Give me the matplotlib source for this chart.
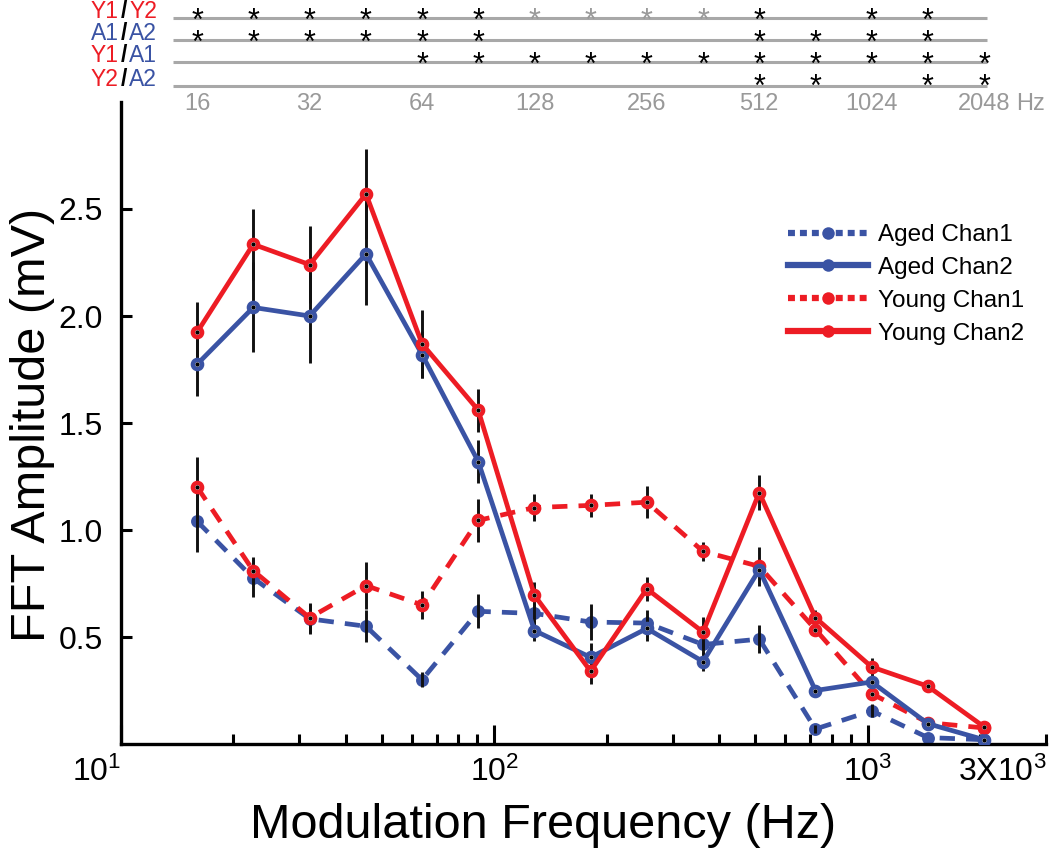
import matplotlib
matplotlib.use("Agg")
import matplotlib.pyplot as plt
from matplotlib import ticker, transforms
from matplotlib.lines import Line2D
from matplotlib.font_manager import FontProperties

plt.rcParams['font.family'] = ['Liberation Sans', 'DejaVu Sans']
plt.rcParams['mathtext.fontset'] = 'custom'
plt.rcParams['mathtext.rm'] = 'Liberation Sans'
plt.rcParams['lines.scale_dashes'] = False

# data
freqs = [16, 22.6, 32, 45.3, 64, 90.5, 128, 181, 256, 362, 512, 724, 1024, 1448, 2048]

aged_chan1 = [1.04, 0.775, 0.585, 0.55, 0.30, 0.62, 0.61, 0.57, 0.565, 0.465, 0.49, 0.07, 0.155, 0.03, 0.02]
aged_chan1_err = [0.145, 0.09, 0.07, 0.075, 0.035, 0.08, 0.05, 0.085, 0.06, 0.05, 0.065, 0.02, 0.03, 0.0, 0.0]

aged_chan2 = [1.775, 2.04, 2.0, 2.29, 1.82, 1.32, 0.53, 0.405, 0.54, 0.385, 0.815, 0.25, 0.29, 0.095, 0.02]
aged_chan2_err = [0.15, 0.21, 0.22, 0.24, 0.11, 0.10, 0.05, 0.065, 0.06, 0.045, 0.05, 0.02, 0.02, 0.0, 0.0]

young_chan1 = [1.20, 0.81, 0.59, 0.74, 0.65, 1.045, 1.105, 1.115, 1.13, 0.90, 0.83, 0.535, 0.235, 0.10, 0.075]
young_chan1_err = [0.14, 0.065, 0.07, 0.11, 0.065, 0.10, 0.065, 0.055, 0.075, 0.045, 0.09, 0.03, 0.02, 0.0, 0.0]

young_chan2 = [1.925, 2.335, 2.24, 2.57, 1.87, 1.56, 0.695, 0.34, 0.725, 0.523, 1.175, 0.59, 0.36, 0.27, 0.08]
young_chan2_err = [0.14, 0.165, 0.18, 0.21, 0.16, 0.10, 0.06, 0.06, 0.055, 0.07, 0.08, 0.035, 0.04, 0.0, 0.0]

# significance rows: 0 = none, 1 = black star, 2 = grey star
sig_labels = [("Y1", "Y2"), ("A1", "A2"), ("Y1", "A1"), ("Y2", "A2")]
sig_y1_y2 = [1, 1, 1, 1, 1, 1, 2, 2, 2, 2, 1, 0, 1, 1, 0]
sig_a1_a2 = [1, 1, 1, 1, 1, 1, 0, 0, 0, 0, 1, 1, 1, 1, 0]
sig_y1_a1 = [0, 0, 0, 0, 1, 1, 1, 1, 1, 1, 1, 1, 1, 1, 1]
sig_y2_a2 = [0, 0, 0, 0, 0, 0, 0, 0, 0, 0, 1, 1, 0, 1, 1]
top_freqs = [16, 32, 64, 128, 256, 512, 1024, 2048]

RED = "#ED1C24"
BLUE = "#3A53A4"
name_color = {"Y": RED, "A": BLUE}
star_color = {1: 'black', 2: '#9a9a9a'}

fig = plt.figure(figsize=(10.5, 8.55), dpi=100)
W, H = 1050, 855
ax = fig.add_axes([121 / W, 111 / H, 925 / W, 642 / H])

LW = 3.4
ring = dict(marker='o', ms=6.6, mew=3.2, mfc='white')

# aged chan1 (dashed, filled markers, sits under the error bars)
ax.plot(freqs, aged_chan1, color=BLUE, lw=LW, dashes=(11, 8), marker='o', ms=9.3, mew=0, zorder=2)

for vals, errs in [(aged_chan1, aged_chan1_err), (young_chan1, young_chan1_err),
                   (aged_chan2, aged_chan2_err), (young_chan2, young_chan2_err)]:
    ax.errorbar(freqs, vals, yerr=errs, fmt='none', ecolor='#111111', elinewidth=2.1, capsize=0, zorder=3)

ax.plot(freqs, young_chan1, color=RED, lw=LW, dashes=(11, 8), mec=RED, zorder=4, **ring)
ax.plot(freqs, young_chan1, 'o', color='k', ms=2, zorder=4.5)
ax.plot(freqs, aged_chan2, color=BLUE, lw=LW, mec=BLUE, zorder=5, **ring)
ax.plot(freqs, aged_chan2, 'o', color='k', ms=2, zorder=5.5)
ax.plot(freqs, young_chan2, color=RED, lw=LW, mec=RED, zorder=6, **ring)
ax.plot(freqs, young_chan2, 'o', color='k', ms=2, zorder=6.5)

ax.set_xscale('log')
ax.set_xlim(10, 3000)
ax.set_ylim(0, 3.0)
ax.set_yticks([0.5, 1.0, 1.5, 2.0, 2.5])
ax.yaxis.set_major_formatter(ticker.FormatStrFormatter('%.1f'))
ax.xaxis.set_major_locator(ticker.FixedLocator([10, 100, 1000]))
ax.xaxis.set_major_formatter(ticker.FixedFormatter([r'$\mathregular{10^{1}}$', r'$\mathregular{10^{2}}$',
                                                    r'$\mathregular{10^{3}}$']))
minors = [20, 30, 40, 50, 60, 70, 80, 90, 200, 300, 400, 500, 600, 700, 800, 900, 2000, 3000]
ax.xaxis.set_minor_locator(ticker.FixedLocator(minors))
ax.xaxis.set_minor_formatter(ticker.FuncFormatter(
    lambda v, p: r'3X$\mathregular{10^{3}}$' if abs(v - 3000) < 1 else ''))

for s in ['top', 'right']:
    ax.spines[s].set_visible(False)
for s in ['left', 'bottom']:
    ax.spines[s].set_linewidth(2.4)

ax.tick_params(axis='x', which='major', direction='in', length=14, width=2.2, labelsize=23, pad=9)
ax.tick_params(axis='x', which='minor', direction='in', length=7.5, width=2.2, labelsize=23, pad=9)
ax.tick_params(axis='y', direction='in', length=8, width=2.2, labelsize=23, pad=13)
fig.canvas.draw()
ax.get_xticklabels()[0].set_ha('right')
for lab in ax.get_xminorticklabels():
    lab.set_ha('right')

ax.set_xlabel('Modulation Frequency (Hz)', fontsize=35, va='baseline')
ax.xaxis.set_label_coords(0.456, (744 - 838) / 642)
ax.set_ylabel('FFT Amplitude (mV)', fontsize=35, va='baseline')
ax.yaxis.set_label_coords((45 - 121) / 925, 0.497)

# legend with short-dash proxies
leg_names = ["Aged Chan1", "Aged Chan2", "Young Chan1", "Young Chan2"]
leg_colors = [BLUE, BLUE, RED, RED]
leg_dashed = [True, False, True, False]
handles = []
for c, d in zip(leg_colors, leg_dashed):
    h = Line2D([], [], color=c, lw=4.5, marker='o', ms=9, mew=0)
    if d:
        h.set_dashes((5, 3.6))
    handles.append(h)
ax.legend(handles, leg_names, loc='upper left', bbox_to_anchor=(788 / W, 1 - 224 / H),
          bbox_transform=fig.transFigure, frameon=False, fontsize=17.5, handlelength=3.3,
          handletextpad=0.4, labelspacing=0.45, borderpad=0, borderaxespad=0)

# significance panel on top, same log x scale
top = fig.add_axes([121 / W, (H - 115) / H, 925 / W, 115 / H])
top.set_xscale('log')
top.set_xlim(10, 3000)
top.set_ylim(115, 0)
top.axis('off')

line_y = [18, 40, 62, 86]
star_c = [12, 34, 56, 78]     # centre of the star glyph for each row
STAR_FS = 22
em = STAR_FS * 100 / 72.0
r = fig.canvas.get_renderer()
_, lp_h, lp_d = r.get_text_width_height_descent('lp', FontProperties(size=STAR_FS), ismath=False)
# baseline-to-baseline in a multi-line text is lp_d + (lp_h - lp_d) * linespacing
star_ls = (star_c[1] - star_c[0] - lp_d) / (lp_h - lp_d)

rows = [sig_y1_y2, sig_a1_a2, sig_y1_a1, sig_y2_a2]
blend = transforms.blended_transform_factory(fig.transFigure, top.transData)
for (a, b), ly in zip(sig_labels, line_y):
    top.hlines(ly, 13.8, 2080, color='#a8a8a8', lw=2.2)
    t2 = top.text(157 / W, ly, b, transform=blend, ha='right', va='baseline', fontsize=16.5,
                  color=name_color[b[0]])
    sl = top.annotate('/', xy=(0, 0), xycoords=t2, xytext=(-1.5, 0), textcoords='offset points',
                      ha='right', va='bottom', fontsize=16.5, fontweight='bold', color='black')
    top.annotate(a, xy=(0, 0), xycoords=sl, xytext=(-1.5, 0), textcoords='offset points',
                 ha='right', va='bottom', fontsize=16.5, color=name_color[a[0]])

# stars: consecutive same-colour stars in a column go in one text
# (a multi-line text with va='baseline' sits on the baseline of its last line)
for j, f in enumerate(freqs):
    col = [row[j] for row in rows]
    i = 0
    while i < len(col):
        if col[i] == 0:
            i += 1
            continue
        k = i
        while k + 1 < len(col) and col[k + 1] == col[i]:
            k += 1
        top.text(f, star_c[k] + 0.575 * em, "\n".join(["*"] * (k - i + 1)), ha='center', va='baseline',
                 fontsize=STAR_FS, linespacing=star_ls, color=star_color[col[i]])
        i = k + 1

last = None
for f in top_freqs:
    last = top.text(f, 110, str(f), ha='center', va='baseline', fontsize=17, color='#999999')
top.annotate('Hz', xy=(1, 0), xycoords=last, xytext=(4, 0), textcoords='offset points',
             ha='left', va='bottom', fontsize=17, color='#999999')

fig.savefig('out.png', dpi=100)
